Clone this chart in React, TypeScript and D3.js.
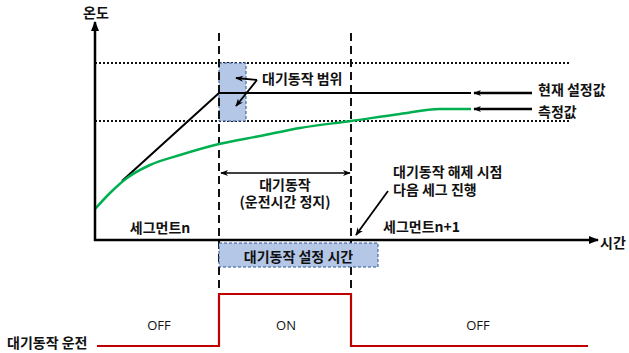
import React from "react";
import * as d3 from "d3";

// time units (0..500) and temperature units (0..218)
const measuredTime = [0, 15, 32, 55, 85, 124, 165, 205, 256, 305, 345, 376];
const measuredTemp = [31, 47, 62, 75, 85, 96, 104, 112, 119, 126, 131, 131];
const setpointTime = [27, 124, 376];
const setpointTemp = [59, 147, 147];
const bandUpper = 177;
const bandLower = 119;
const waitStart = 124;
const waitEnd = 256;
const waitSetEnd = 283;
const runStateTime = [2, 124, 124, 256, 256, 493];
const runStateValue = [0, 0, 1, 1, 0, 0];
const stateLabels = ["OFF", "ON", "OFF"];
const stateLabelTime = [64, 191, 383];

const W = 629;
const H = 353;
const FONT = "'Noto Sans CJK KR', 'Noto Sans', sans-serif";

export default function App() {
  const x = d3.scaleLinear().domain([0, 500]).range([95, 595]);
  const y = d3.scaleLinear().domain([0, 218]).range([240, 22]);
  const ys = d3.scaleLinear().domain([0, 1]).range([346, 294]);

  const measured = measuredTime.map((t, i) => [x(t), y(measuredTemp[i])] as [number, number]);
  const setpoint = setpointTime.map((t, i) => [x(t), y(setpointTemp[i])] as [number, number]);
  const run = runStateTime.map((t, i) => [x(t), ys(runStateValue[i])] as [number, number]);

  const curve = d3.line().curve(d3.curveMonotoneX)(measured) || "";
  const straight = d3.line()(setpoint) || "";
  const runPath = d3.line()(run) || "";

  const x0 = x(0);
  const yAxis = y(0);
  const xs = x(waitStart);
  const xe = x(waitEnd);
  const yU = y(bandUpper);
  const yL = y(bandLower);
  const ySet = y(setpointTemp[1]);
  const yMeasEnd = y(measuredTemp[measuredTemp.length - 1]);
  const xLineEnd = x(setpointTime[setpointTime.length - 1]);

  const txt = { fontFamily: FONT, fontSize: 14, fill: "#111", fontWeight: 700 } as const;
  const lat = { fontFamily: "'Open Sans', 'Noto Sans', sans-serif", fontSize: 13, fill: "#111", fontWeight: 400 } as const;

  return (
    <svg width={W} height={H} style={{ position: "absolute", left: 0, top: 0, background: "#fff" }}>
      <defs>
        <marker id="ahs" viewBox="0 0 10 10" refX="9" refY="5" markerWidth="8" markerHeight="8" orient="auto-start-reverse" markerUnits="userSpaceOnUse">
          <path d="M0,1 L10,5 L0,9 L3,5 z" fill="#000" />
        </marker>
        <marker id="axh" viewBox="0 0 10 10" refX="9" refY="5" markerWidth="10" markerHeight="10" orient="auto" markerUnits="userSpaceOnUse">
          <path d="M0,1 L10,5 L0,9 z" fill="#000" />
        </marker>
      </defs>

      {/* dotted band lines */}
      <line x1={x0} x2={x(476)} y1={yU} y2={yU} stroke="#111" strokeWidth={2} strokeDasharray="2,2" />
      <line x1={x0} x2={x(476)} y1={yL} y2={yL} stroke="#111" strokeWidth={2} strokeDasharray="2,2" />

      {/* band box */}
      <rect x={xs} y={yU} width={x(151) - xs} height={yL - yU} fill="#b4c7e7" stroke="#2f5597" strokeWidth={1} strokeDasharray="3,2" />

      {/* dashed vertical lines */}
      <line x1={xs} x2={xs} y1={33} y2={293} stroke="#111" strokeWidth={2} strokeDasharray="8,5" />
      <line x1={xe} x2={xe} y1={33} y2={293} stroke="#111" strokeWidth={2} strokeDasharray="8,5" />

      {/* waiting set time box */}
      <rect x={xs} y={243} width={x(waitSetEnd) - xs} height={24} fill="#b4c7e7" stroke="#2f5597" strokeWidth={1} strokeDasharray="3,2" />
      <text x={(xs + x(waitSetEnd)) / 2} y={256} textAnchor="middle" dominantBaseline="central" style={txt}>대기동작 설정 시간</text>

      {/* setpoint and measured */}
      <path d={straight} fill="none" stroke="#000" strokeWidth={2} />
      <path d={curve} fill="none" stroke="#00b050" strokeWidth={2.5} />

      {/* axes */}
      <line x1={x0} x2={x0} y1={yAxis + 1} y2={22} stroke="#000" strokeWidth={2.5} markerEnd="url(#axh)" />
      <line x1={x0 - 1} x2={598} y1={yAxis} y2={yAxis} stroke="#000" strokeWidth={2.5} markerEnd="url(#axh)" />
      <text x={96} y={12} textAnchor="middle" dominantBaseline="central" style={txt}>온도</text>
      <text x={600} y={242} dominantBaseline="central" style={txt}>시간</text>

      {/* band label arrows */}
      <line x1={257} y1={80} x2={236} y2={78} stroke="#000" strokeWidth={1.8} markerEnd="url(#ahs)" />
      <line x1={257} y1={80} x2={236} y2={106} stroke="#000" strokeWidth={1.8} markerEnd="url(#ahs)" />
      <text x={262} y={78} dominantBaseline="central" style={txt}>대기동작 범위</text>

      {/* legend arrows */}
      <line x1={532} y1={ySet} x2={xLineEnd + 3} y2={ySet} stroke="#000" strokeWidth={2.5} markerEnd="url(#ahs)" />
      <line x1={532} y1={yMeasEnd} x2={xLineEnd + 3} y2={yMeasEnd} stroke="#000" strokeWidth={2.5} markerEnd="url(#ahs)" />
      <text x={538} y={89} dominantBaseline="central" style={txt}>현재 설정값</text>
      <text x={538} y={111} dominantBaseline="central" style={txt}>측정값</text>

      {/* interval arrow */}
      <line x1={xs + 2} x2={xe - 1} y1={173} y2={173} stroke="#000" strokeWidth={1.3} markerStart="url(#ahs)" markerEnd="url(#ahs)" />
      <text textAnchor="middle" style={txt}>
        <tspan x={(xs + xe) / 2} y={190}>대기동작</tspan>
        <tspan x={(xs + xe) / 2} y={207}>(운전시간 정지)</tspan>
      </text>

      {/* release annotation */}
      <text style={txt}>
        <tspan x={393} y={177}>대기동작 해제 시점</tspan>
        <tspan x={393} y={195}>다음 세그 진행</tspan>
      </text>
      <line x1={388} y1={191} x2={356} y2={235} stroke="#000" strokeWidth={1.8} markerEnd="url(#ahs)" />

      <text x={160} y={227} textAnchor="middle" dominantBaseline="central" style={txt}>세그먼트n</text>
      <text x={383} y={226} dominantBaseline="central" style={txt}>세그먼트n+1</text>

      {/* run state */}
      <path d={runPath} fill="none" stroke="#c00000" strokeWidth={2.2} />
      <text x={7} y={342} dominantBaseline="central" style={txt}>대기동작 운전</text>
      {stateLabels.map((s, i) => (
        <text key={i} x={x(stateLabelTime[i])} y={325} textAnchor="middle" dominantBaseline="central" style={lat}>{s}</text>
      ))}
    </svg>
  );
}
